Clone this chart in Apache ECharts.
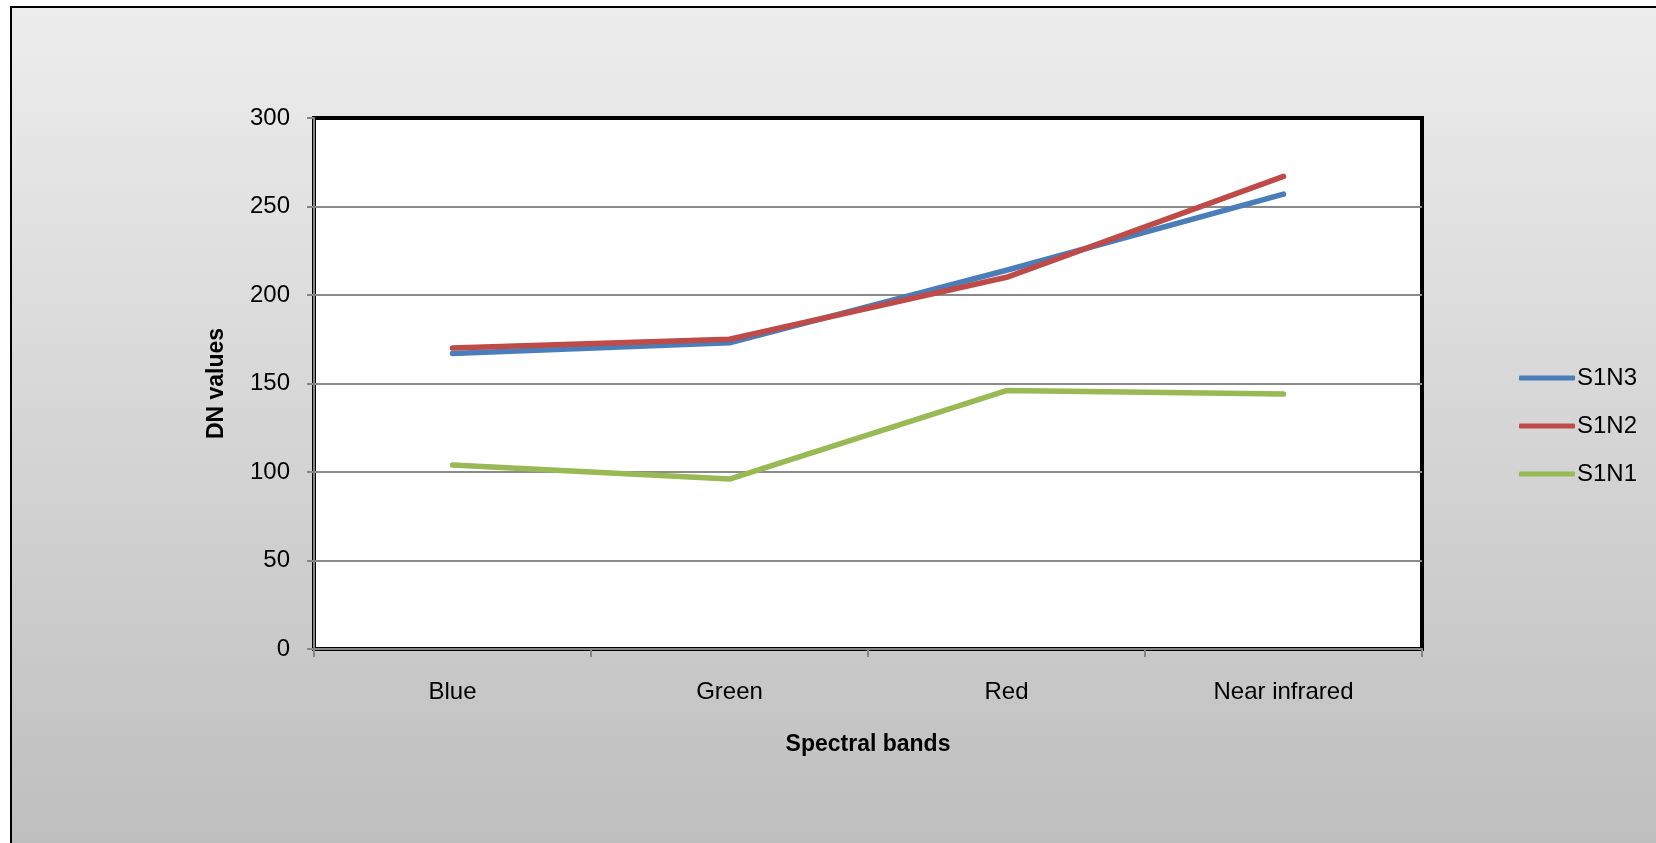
<!DOCTYPE html>
<html>
<head>
<meta charset="utf-8">
<title>DN values by spectral band</title>
<script src="https://cdn.jsdelivr.net/npm/echarts@6/dist/echarts.min.js"></script>
<style>
  html, body { margin: 0; padding: 0; background: #ffffff; }
  #chart { width: 1656px; height: 843px; }
</style>
</head>
<body>
<div id="chart"></div>
<script>
// Spectral bands on the category axis
const bands = ['Blue', 'Green', 'Red', 'Near infrared'];

// DN values per sample
const s1n3 = [167, 173, 214, 257];
const s1n2 = [170, 175, 210, 267];
const s1n1 = [104, 96, 146, 144];

const seriesNames = ['S1N3', 'S1N2', 'S1N1'];
const seriesColors = ['#4a7ebb', '#be4b48', '#98b954'];
const seriesData = [s1n3, s1n2, s1n1];

const FONT = '"Liberation Sans", Arial, sans-serif';

const chart = echarts.init(document.getElementById('chart'), null, { renderer: 'canvas' });

chart.setOption({
  animation: false,
  backgroundColor: '#ffffff',
  graphic: [{
    type: 'rect',
    z: -10,
    silent: true,
    shape: { x: 11, y: 7, width: 1700, height: 900 },
    style: {
      fill: {
        type: 'linear', x: 0, y: 0, x2: 0, y2: 1,
        colorStops: [
          { offset: 0, color: '#ededed' },
          { offset: 1, color: '#bbbbbb' }
        ]
      },
      stroke: '#000000',
      lineWidth: 2
    }
  }],
  grid: {
    left: 314, right: 234, top: 118, bottom: 194,
    outerBoundsMode: 'none',
    show: true,
    backgroundColor: '#ffffff',
    borderColor: '#000000',
    borderWidth: 4
  },
  legend: {
    orient: 'vertical',
    left: 1519,
    top: 366,
    padding: 0,
    itemWidth: 56,
    itemHeight: 5,
    itemGap: 24,
    icon: 'roundRect',
    data: seriesNames,
    textStyle: { fontFamily: FONT, fontSize: 24, color: '#000000', lineHeight: 24, padding: [0, 0, 0, -3] }
  },
  xAxis: {
    type: 'category',
    data: bands,
    boundaryGap: true,
    name: 'Spectral bands',
    nameLocation: 'middle',
    nameGap: 84,
    nameTextStyle: { fontFamily: FONT, fontSize: 23, fontWeight: 'bold', color: '#000000' },
    axisLine: { show: true, lineStyle: { color: '#868686', width: 2 } },
    axisTick: { show: true, length: 8, lineStyle: { color: '#868686', width: 2 } },
    axisLabel: { fontFamily: FONT, fontSize: 24, color: '#000000', margin: 31 },
    splitLine: { show: false }
  },
  yAxis: {
    type: 'value',
    min: 0,
    max: 300,
    interval: 50,
    name: 'DN values',
    nameLocation: 'middle',
    nameGap: 86,
    nameTextStyle: { fontFamily: FONT, fontSize: 23, fontWeight: 'bold', color: '#000000' },
    axisLine: { show: true, lineStyle: { color: '#868686', width: 2 } },
    axisTick: { show: true, length: 7, lineStyle: { color: '#868686', width: 2 } },
    axisLabel: { fontFamily: FONT, fontSize: 24, color: '#000000', margin: 24 },
    splitLine: {
      show: true,
      showMinLine: false,
      showMaxLine: false,
      lineStyle: { color: '#8a8a8a', width: 2 }
    }
  },
  series: seriesNames.map((name, i) => ({
    name: name,
    type: 'line',
    data: seriesData[i],
    showSymbol: false,
    symbol: 'none',
    smooth: false,
    color: seriesColors[i],
    lineStyle: { width: 5.5, color: seriesColors[i], cap: 'round', join: 'round' }
  }))
});
</script>
</body>
</html>
